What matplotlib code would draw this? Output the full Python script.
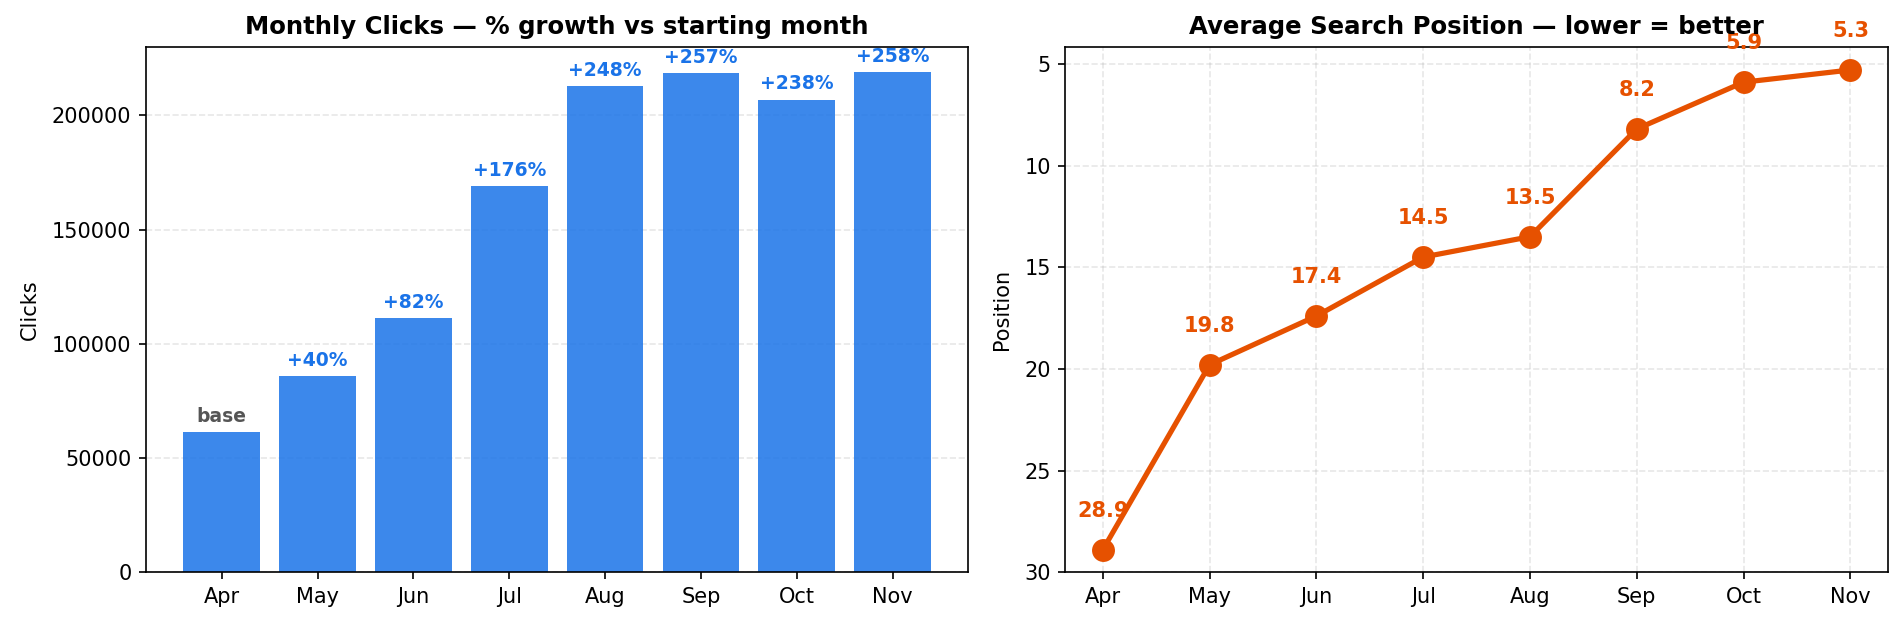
import matplotlib
matplotlib.use("Agg")
import matplotlib.pyplot as plt

# data
months = ["Apr", "May", "Jun", "Jul", "Aug", "Sep", "Oct", "Nov"]
clicks = [61200, 85700, 111400, 168900, 213000, 218500, 206900, 219100]
growth_labels = ["base", "+40%", "+82%", "+176%", "+248%", "+257%", "+238%", "+258%"]
positions = [28.9, 19.8, 17.4, 14.5, 13.5, 8.2, 5.9, 5.3]

BLUE = "#1a73e8"
ORANGE = "#e65100"

fig, (ax1, ax2) = plt.subplots(1, 2, figsize=(1903 / 150, 624 / 150), dpi=150)
fig.subplots_adjust(left=0.0767, right=0.992, bottom=0.083, top=0.925, wspace=0.118)

# Monthly clicks bars
x = range(len(months))
ax1.bar(x, clicks, color=BLUE, alpha=0.85, width=0.8)
for i, (v, lab) in enumerate(zip(clicks, growth_labels)):
    col = "#555555" if lab == "base" else BLUE
    ax1.annotate(lab, (i, v), xytext=(0, 3), textcoords="offset points",
                 ha="center", va="bottom", fontsize=9, fontweight="bold", color=col)
ax1.set_xticks(list(x))
ax1.set_xticklabels(months)
ax1.set_ylabel("Clicks", labelpad=6)
ax1.set_title("Monthly Clicks — % growth vs starting month", fontsize=11.7, fontweight="bold")
ax1.grid(axis="y", linestyle="--", alpha=0.3)
ax1.set_axisbelow(True)

# Average position line (inverted axis)
ax2.plot(x, positions, color=ORANGE, linewidth=2.5, marker="o", markersize=10)
for i, v in enumerate(positions):
    ax2.annotate(f"{v}", (i, v), xytext=(0, 14), textcoords="offset points",
                 ha="center", va="bottom", fontsize=10, fontweight="bold", color=ORANGE)
ax2.set_ylim(30, 4.16)
ax2.set_xticks(list(x))
ax2.set_xticklabels(months)
ax2.set_ylabel("Position", labelpad=6)
ax2.set_title("Average Search Position — lower = better", fontsize=11.7, fontweight="bold")
ax2.grid(True, linestyle="--", alpha=0.3)
ax2.set_axisbelow(True)

fig.savefig("out.png", dpi=150)
